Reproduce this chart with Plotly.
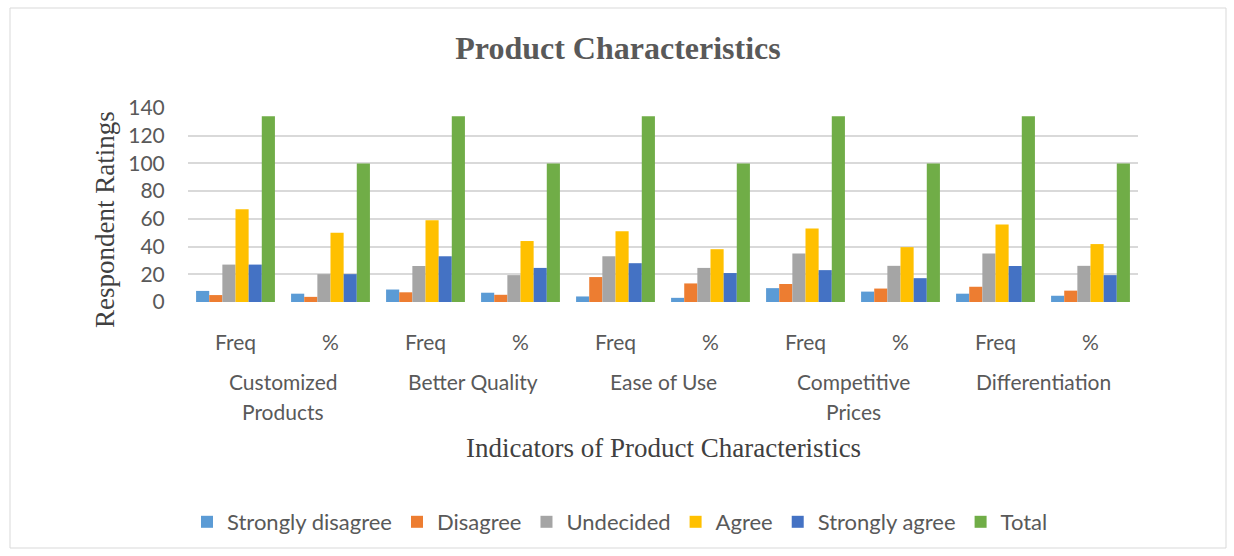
import plotly.graph_objects as go

groups = ["Customized\nProducts", "Better Quality", "Ease of Use", "Competitive\nPrices", "Differentiation"]
subs = ["Freq", "%"]
tick_labels = [s for g in groups for s in subs]

series_names = ["Strongly disagree", "Disagree", "Undecided", "Agree", "Strongly agree", "Total"]
strongly_disagree = [8, 6.0, 9, 6.7, 4, 3.0, 10, 7.5, 6, 4.5]
disagree = [5, 3.7, 7, 5.2, 18, 13.4, 13, 9.7, 11, 8.2]
undecided = [27, 20.1, 26, 19.4, 33, 24.6, 35, 26.1, 35, 26.1]
agree = [67, 50.0, 59, 44.0, 51, 38.1, 53, 39.6, 56, 41.8]
strongly_agree = [27, 20.1, 33, 24.6, 28, 20.9, 23, 17.2, 26, 19.4]
total = [134, 100, 134, 100, 134, 100, 134, 100, 134, 100]
series_values = [strongly_disagree, disagree, undecided, agree, strongly_agree, total]
colors = ["#5B9BD5", "#ED7D31", "#A5A5A5", "#FFC000", "#4472C4", "#70AD47"]

y_ticks = [0, 20, 40, 60, 80, 100, 120, 140]

W, H = 1234, 556
L, R, T, B = 188, 96, 108, 254
PW, PH = W - L - R, H - T - B

def px_to_paper_x(px):
    return (px - L) / PW

def px_to_paper_y(py):
    return (H - B - py) / PH

xs = list(range(len(tick_labels)))
fig = go.Figure()
for name, vals, col in zip(series_names, series_values, colors):
    fig.add_trace(go.Bar(x=xs, y=vals, name=name, marker=dict(color=col, line=dict(width=0))))

label_font = dict(family="Lato, Calibri, sans-serif", size=21, color="#595959")
legend_font = dict(family="Lato, Calibri, sans-serif", size=22, color="#595959")
serif = "Liberation Serif, Times New Roman, serif"

annotations = []
for gi, g in enumerate(groups):
    for li, line in enumerate(g.split("\n")):
        annotations.append(dict(x=gi * 2 + 0.5, xref="x", y=px_to_paper_y(381 + 30 * li), yref="paper",
                                text=line, showarrow=False, font=label_font, xanchor="center", yanchor="middle"))
annotations.append(dict(x=px_to_paper_x(663), xref="paper", y=px_to_paper_y(448), yref="paper",
                        text="Indicators of Product Characteristics", showarrow=False,
                        font=dict(family=serif, size=27, color="#404040"), xanchor="center", yanchor="middle"))
annotations.append(dict(x=px_to_paper_x(105), xref="paper", y=px_to_paper_y(220), yref="paper",
                        text="Respondent Ratings", showarrow=False, textangle=-90,
                        font=dict(family=serif, size=27, color="#404040"), xanchor="center", yanchor="middle"))

shapes = [dict(type="rect", xref="paper", yref="paper",
               x0=px_to_paper_x(10), x1=px_to_paper_x(1226), y0=px_to_paper_y(548), y1=px_to_paper_y(8),
               line=dict(color="#D9D9D9", width=1), fillcolor="rgba(0,0,0,0)", layer="below")]

fig.update_layout(
    width=W, height=H,
    margin=dict(l=L, r=R, t=T, b=B),
    paper_bgcolor="white", plot_bgcolor="white",
    barmode="group", bargap=0.17, bargroupgap=0.0,
    title=dict(text="<b>Product Characteristics</b>", x=(618) / W, xref="container", xanchor="center",
               y=1 - 48 / H, yanchor="middle",
               font=dict(family=serif, size=32, color="#595959")),
    xaxis=dict(tickmode="array", tickvals=xs, ticktext=tick_labels, range=[-0.5, 9.5],
               showgrid=False, zeroline=False, showline=False,
               ticks="outside", ticklen=22, tickcolor="rgba(0,0,0,0)", tickfont=label_font),
    yaxis=dict(range=[0, 140], tickmode="array", tickvals=y_ticks,
               showgrid=True, gridcolor="#D9D9D9", gridwidth=2, zeroline=False, showline=False,
               ticks="outside", ticklen=18, tickcolor="rgba(0,0,0,0)", tickfont=label_font),
    legend=dict(orientation="h", x=px_to_paper_x(620), xanchor="center", xref="paper",
                y=px_to_paper_y(522), yanchor="middle",
                font=legend_font, itemwidth=30, traceorder="normal"),
    annotations=annotations,
    shapes=shapes,
    showlegend=True,
)

fig.write_html("out.html")
